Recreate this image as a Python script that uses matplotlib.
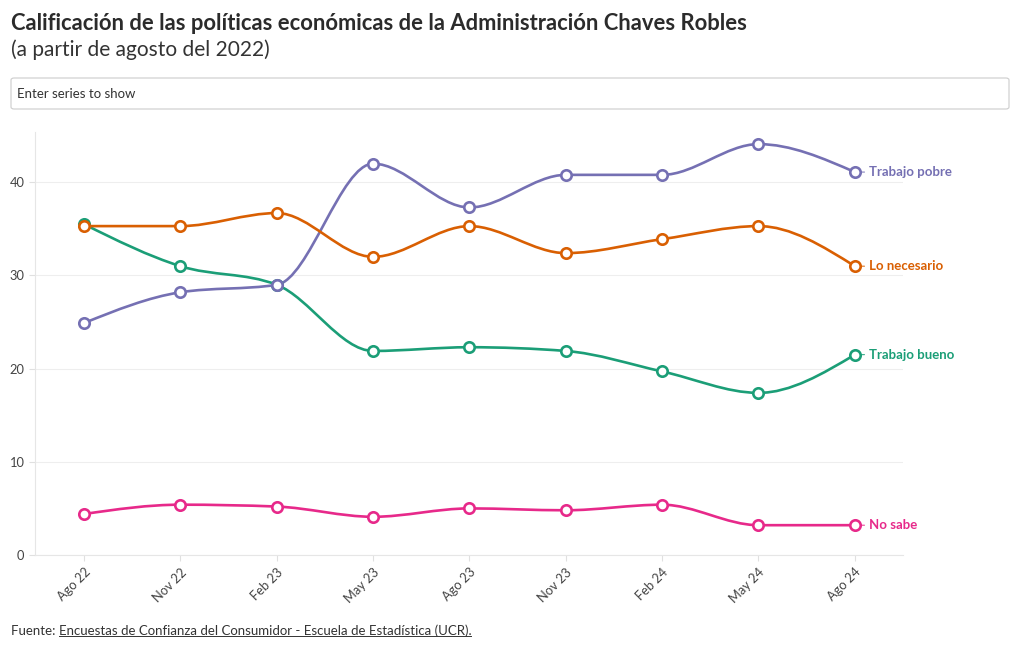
import matplotlib

matplotlib.use("Agg")

import matplotlib.pyplot as plt
from matplotlib.lines import Line2D
from matplotlib.patches import FancyBboxPatch, PathPatch
from matplotlib.path import Path

plt.rcParams["font.family"] = ["Lato", "DejaVu Sans"]

periods = ["Ago 22", "Nov 22", "Feb 23", "May 23", "Ago 23", "Nov 23", "Feb 24", "May 24", "Ago 24"]
trabajo_pobre = [24.9, 28.2, 29.0, 42.0, 37.3, 40.8, 40.8, 44.1, 41.1]
lo_necesario = [35.3, 35.3, 36.7, 32.0, 35.3, 32.4, 33.9, 35.3, 31.0]
trabajo_bueno = [35.5, 31.0, 29.0, 21.9, 22.3, 21.9, 19.7, 17.4, 21.5]
no_sabe = [4.4, 5.4, 5.2, 4.1, 5.0, 4.8, 5.4, 3.2, 3.2]
y_ticks = [0, 10, 20, 30, 40]

series = [
    ("Trabajo bueno", trabajo_bueno, "#1b9e77"),
    ("Trabajo pobre", trabajo_pobre, "#7570b3"),
    ("Lo necesario", lo_necesario, "#d95f02"),
    ("No sabe", no_sabe, "#e7298a"),
]


def sign(v):
    return (v > 0) - (v < 0)


def monotone_path(xs, ys):
    # monotone cubic (steffen) like d3.curveMonotoneX
    n = len(xs)
    slopes = [(ys[i + 1] - ys[i]) / (xs[i + 1] - xs[i]) for i in range(n - 1)]
    t = [0.0] * n
    for i in range(1, n - 1):
        h0, h1 = xs[i] - xs[i - 1], xs[i + 1] - xs[i]
        s0, s1 = slopes[i - 1], slopes[i]
        p = (s0 * h1 + s1 * h0) / (h0 + h1)
        t[i] = (sign(s0) + sign(s1)) * min(abs(s0), abs(s1), 0.5 * abs(p))
    t[0] = (3 * slopes[0] - t[1]) / 2
    t[-1] = (3 * slopes[-1] - t[-2]) / 2
    verts = [(xs[0], ys[0])]
    codes = [Path.MOVETO]
    for i in range(n - 1):
        dx = (xs[i + 1] - xs[i]) / 3
        verts += [(xs[i] + dx, ys[i] + dx * t[i]), (xs[i + 1] - dx, ys[i + 1] - dx * t[i + 1]),
                  (xs[i + 1], ys[i + 1])]
        codes += [Path.CURVE4] * 3
    return Path(verts, codes)


fig = plt.figure(figsize=(10.2, 6.5), dpi=100)
W, H = 1020, 650
ax = fig.add_axes([35 / W, (H - 555) / H, (903 - 35) / W, (555 - 132) / H])
ax.set_xlim(-0.51, 8.5)
ax.set_ylim(0, 45.4)

xs = list(range(len(periods)))
for name, values, color in series:
    ax.add_patch(PathPatch(monotone_path(xs, values), facecolor="none", edgecolor=color,
                           linewidth=1.9, capstyle="round", zorder=3))
    ax.plot(xs, values, linestyle="none", marker="o", markersize=7.5, markerfacecolor="white",
            markeredgecolor=color, markeredgewidth=1.9, zorder=4)
    ax.annotate(name, xy=(xs[-1], values[-1]), xytext=(10, 0), textcoords="offset points",
                ha="left", va="center", color=color, fontsize=9.5, fontweight="bold",
                arrowprops=dict(arrowstyle="-", color=color, lw=0.7, shrinkA=1, shrinkB=4.5),
                annotation_clip=False)

ax.set_xticks(xs)
ax.set_xticklabels(periods, rotation=45, ha="right", rotation_mode="anchor")
ax.set_yticks(y_ticks)
ax.grid(axis="y", color="#eeeeee", linewidth=0.8)
ax.set_axisbelow(True)
for side in ["top", "right"]:
    ax.spines[side].set_visible(False)
for side in ["left", "bottom"]:
    ax.spines[side].set_color("#e6e6e6")
    ax.spines[side].set_linewidth(0.8)
ax.tick_params(axis="both", colors="#e0e0e0", labelcolor="#444444", labelsize=9.3, length=4, width=0.8)
ax.tick_params(axis="x", pad=4)

fig.text(11 / W, 1 - 24 / H, "Calificación de las políticas económicas de la Administración Chaves Robles",
         fontsize=15.8, fontweight="bold", color="#2b2b2b", va="center", ha="left")
fig.text(11 / W, 1 - 50 / H, "(a partir de agosto del 2022)", fontsize=15, color="#333333",
         va="center", ha="left")

box = FancyBboxPatch((11 / W, 1 - 109 / H), (1009 - 11) / W, 31 / H, transform=fig.transFigure,
                     boxstyle="round,pad=0,rounding_size=0.003", facecolor="white",
                     edgecolor="#cccccc", linewidth=0.8)
fig.patches.append(box)
fig.text(17 / W, 1 - 94 / H, "Enter series to show", fontsize=9.5, color="#333333", va="center", ha="left")

src = fig.text(11 / W, 1 - 631 / H, "Fuente: ", fontsize=9.5, color="#333333", va="center", ha="left")
fig.canvas.draw()
bb = src.get_window_extent()
link = fig.text(bb.x1 / W, 1 - 631 / H, "Encuestas de Confianza del Consumidor - Escuela de Estadística (UCR).",
                fontsize=9.5, color="#333333", va="center", ha="left")
fig.canvas.draw()
lb = link.get_window_extent()
fig.add_artist(Line2D([lb.x0 / W, lb.x1 / W], [(lb.y0 + 1) / H, (lb.y0 + 1) / H], color="#333333",
                      linewidth=0.7, transform=fig.transFigure))

fig.savefig("out.png", dpi=100)
